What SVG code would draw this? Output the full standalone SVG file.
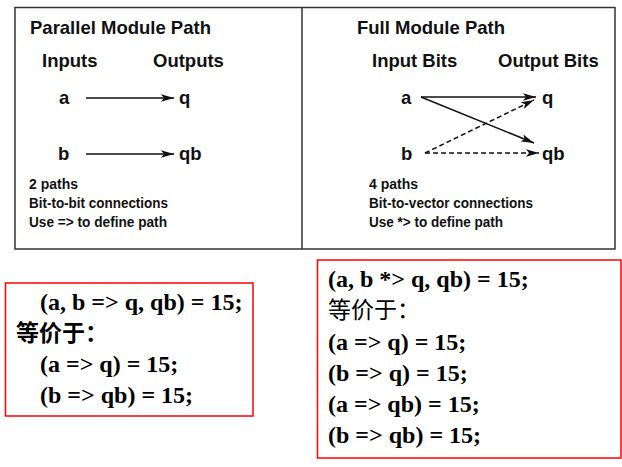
<svg xmlns="http://www.w3.org/2000/svg" width="622" height="467" viewBox="0 0 622 467">
<defs>
<style>
.h{font-family:"Liberation Sans",Arial,sans-serif;font-weight:bold;font-size:18.5px;fill:#111}
.s{font-family:"Liberation Sans",Arial,sans-serif;font-weight:bold;font-size:15px;fill:#111}
.c{font-family:"Liberation Serif","Times New Roman",serif;font-weight:bold;font-size:24px;fill:#000}
.cjk{font-family:"Noto Sans CJK SC",sans-serif;font-size:23px;fill:#000}
.ln{stroke:#111;stroke-width:1.5;fill:none}
.dash{stroke-dasharray:5 3}
.red{fill:#fff;stroke:#f00;stroke-width:1.5}
</style>
<marker id="ah" markerUnits="userSpaceOnUse" markerWidth="14" markerHeight="10" refX="13" refY="5" orient="auto">
<path d="M0,1.2 L13,5 L0,8.8 L3,5 z" fill="#111"/>
</marker>
</defs>
<rect width="622" height="467" fill="#fff"/>
<g id="frame">
<rect x="15" y="7.5" width="600" height="241.5" fill="none" stroke="#333" stroke-width="1.5"/>
<line x1="302" y1="7.5" x2="302" y2="249" stroke="#333" stroke-width="1.5"/>
</g>
<g id="parallel-panel">
<text class="h" x="30" y="34">Parallel Module Path</text>
<text class="h" x="42" y="67">Inputs</text>
<text class="h" x="153" y="67">Outputs</text>
<text class="s" x="29" y="189" textLength="49" lengthAdjust="spacingAndGlyphs">2 paths</text>
<text class="s" x="29" y="208" textLength="139" lengthAdjust="spacingAndGlyphs">Bit-to-bit connections</text>
<text class="s" x="29" y="227" textLength="138" lengthAdjust="spacingAndGlyphs">Use =&gt; to define path</text>
</g>
<g id="p-a"><text class="h" x="59" y="104">a</text></g>
<g id="p-q"><text class="h" x="179" y="104">q</text></g>
<g id="p-b"><text class="h" x="58" y="160">b</text></g>
<g id="p-qb"><text class="h" x="179" y="160">qb</text></g>
<g id="full-panel">
<text class="h" x="357" y="34">Full Module Path</text>
<text class="h" x="372" y="67">Input Bits</text>
<text class="h" x="498" y="67">Output Bits</text>
<text class="s" x="369" y="189" textLength="49" lengthAdjust="spacingAndGlyphs">4 paths</text>
<text class="s" x="369" y="208" textLength="164" lengthAdjust="spacingAndGlyphs">Bit-to-vector connections</text>
<text class="s" x="369" y="227" textLength="134" lengthAdjust="spacingAndGlyphs">Use *&gt; to define path</text>
</g>
<g id="f-a"><text class="h" x="401" y="104">a</text></g>
<g id="f-q"><text class="h" x="542" y="104">q</text></g>
<g id="f-b"><text class="h" x="401" y="160">b</text></g>
<g id="f-qb"><text class="h" x="542" y="160">qb</text></g>
<g id="connectors">
<line class="ln" x1="86" y1="98" x2="174" y2="98" marker-end="url(#ah)"/>
<line class="ln" x1="86" y1="154" x2="174" y2="154" marker-end="url(#ah)"/>
<line class="ln" x1="421" y1="97" x2="536" y2="97" marker-end="url(#ah)"/>
<line class="ln" x1="421" y1="97" x2="534" y2="143" marker-end="url(#ah)"/>
<line class="ln dash" x1="425" y1="153" x2="534" y2="100" marker-end="url(#ah)"/>
<line class="ln dash" x1="425" y1="153" x2="539" y2="153" marker-end="url(#ah)"/>
</g>
<g id="code-parallel">
<rect class="red" x="5.5" y="283" width="247.5" height="133"/>
<text class="c" x="40" y="310">(a, b =&gt; q, qb) = 15;</text>
<text class="cjk" x="16" y="341" font-weight="bold">等价于：</text>
<text class="c" x="40" y="372">(a =&gt; q) = 15;</text>
<text class="c" x="40" y="403">(b =&gt; qb) = 15;</text>
</g>
<g id="code-full">
<rect class="red" x="317.5" y="260" width="303.5" height="198"/>
<text class="c" x="328" y="287">(a, b *&gt; q, qb) = 15;</text>
<text class="cjk" x="328" y="318">等价于：</text>
<text class="c" x="328" y="350">(a =&gt; q) = 15;</text>
<text class="c" x="328" y="381">(b =&gt; q) = 15;</text>
<text class="c" x="328" y="412">(a =&gt; qb) = 15;</text>
<text class="c" x="328" y="443">(b =&gt; qb) = 15;</text>
</g>
</svg>
